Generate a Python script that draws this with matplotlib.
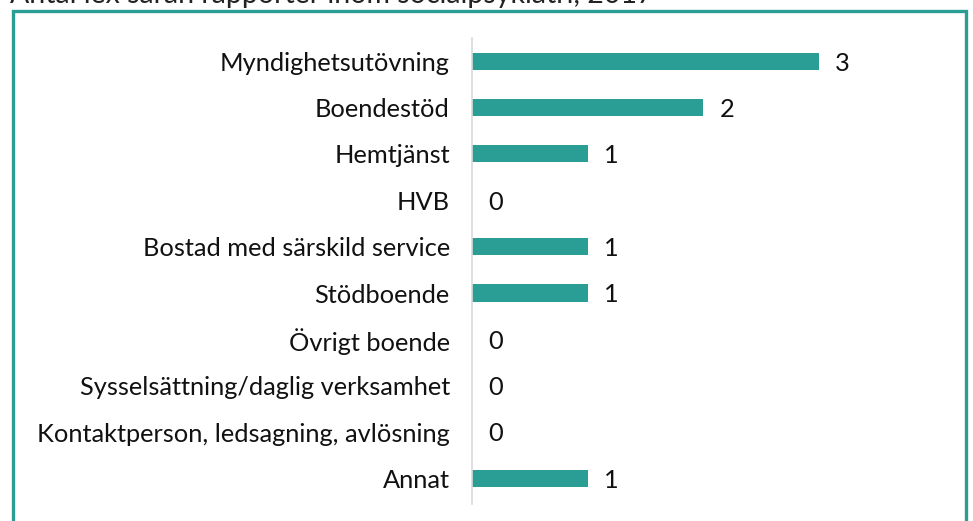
import matplotlib.pyplot as plt
from matplotlib.patches import Rectangle

categories = [
    "Myndighetsutövning",
    "Boendestöd",
    "Hemtjänst",
    "HVB",
    "Bostad med särskild service",
    "Stödboende",
    "Övrigt boende",
    "Sysselsättning/daglig verksamhet",
    "Kontaktperson, ledsagning, avlösning",
    "Annat",
]
values = [3, 2, 1, 0, 1, 1, 0, 0, 0, 1]
title = "Antal lex sarah rapporter inom socialpsykiatri, 2017"

teal = "#2a9d94"
font = ["Lato", "DejaVu Sans"]

fig = plt.figure(figsize=(9.73, 5.21), dpi=100)
W, H = 973, 521

# teal frame around the chart (runs off the bottom)
fig.patches.append(Rectangle((13 / W, -0.05), (966 - 13) / W, (H - 11) / H + 0.05,
                             transform=fig.transFigure, fill=False,
                             edgecolor=teal, linewidth=2.4))

# title is partly above the visible area, as in the source
fig.text(10 / W, (H - 3) / H, title, ha="left", va="baseline",
         fontsize=20.5, family=font, color="#222222")

ax = fig.add_axes([472 / W, 17 / H, (4 * 115.7) / W, (504 - 38) / H])
y = list(range(len(categories)))
ax.barh(y, values, height=0.37, color=teal)
ax.set_xlim(0, 4)
ax.set_ylim(len(categories) - 0.45, -0.5)

for yi, v in zip(y, values):
    ax.text(v + 0.14, yi + 0.04, str(v), ha="left", va="center",
            fontsize=18.3, family=font, color="#111111")

ax.set_yticks(y)
ax.set_yticklabels(categories, fontsize=18.3, family=font, color="#111111")
ax.tick_params(axis="y", length=0, pad=16)
ax.set_xticks([])
for s in ["top", "right", "bottom"]:
    ax.spines[s].set_visible(False)
ax.spines["left"].set_color("#d9d9d9")
ax.spines["left"].set_linewidth(1.2)
ax.set_facecolor("none")

fig.savefig("out.png", dpi=100)
